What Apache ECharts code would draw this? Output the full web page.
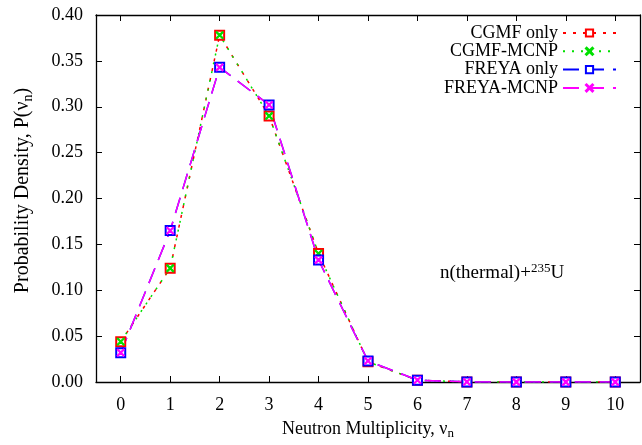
<!DOCTYPE html>
<html>
<head>
<meta charset="utf-8">
<script src="https://cdn.jsdelivr.net/npm/echarts@6/dist/echarts.min.js"></script>
<style>
  html, body { margin: 0; padding: 0; background: #fff; }
  #main { width: 642px; height: 445px; }
</style>
</head>
<body>
<div id="main"></div>
<script>
// neutron multiplicity
var nu = ['0', '1', '2', '3', '4', '5', '6', '7', '8', '9', '10'];
var cgmfOnly  = [0.044, 0.124, 0.378, 0.290, 0.140, 0.022, 0.002, 0.0001, 0, 0, 0];
var cgmfMcnp  = [0.044, 0.124, 0.378, 0.290, 0.140, 0.022, 0.002, 0.0001, 0, 0, 0];
var freyaOnly = [0.032, 0.165, 0.343, 0.302, 0.133, 0.023, 0.002, 0.0001, 0, 0, 0];
var freyaMcnp = [0.032, 0.165, 0.343, 0.302, 0.133, 0.023, 0.002, 0.0001, 0, 0, 0];
var yTicks = ['0.00', '0.05', '0.10', '0.15', '0.20', '0.25', '0.30', '0.35', '0.40'];

var FONT = '"Liberation Serif", "DejaVu Serif", serif';
var crossPath = 'path://M0,1L1,0L5,4L9,0L10,1L6,5L10,9L9,10L5,6L1,10L0,9L4,5Z';

var myChart = echarts.init(document.getElementById('main'));

function mkSeries(name, ys, color, dash, symbol, size) {
    return {
        name: name,
        type: 'line',
        data: ys,
        symbol: symbol,
        symbolSize: size,
        showAllSymbol: true,
        itemStyle: { color: color, borderColor: color, borderWidth: 1.3 },
        lineStyle: { color: color, width: 1.5, type: dash },
        z: 3
    };
}

var lineBlack = { show: true, onZero: false, lineStyle: { color: '#000', width: 1.3 } };
var tickIn = { show: true, inside: true, length: 6, alignWithLabel: true, lineStyle: { color: '#000' } };

var yCommon = {
    type: 'value',
    min: 0, max: 0.4, interval: 0.05,
    axisLine: lineBlack,
    axisTick: tickIn,
    splitLine: { show: false }
};

var option = {
    animation: false,
    backgroundColor: '#fff',
    textStyle: { fontFamily: FONT },
    grid: { left: 96, right: 2, top: 15, bottom: 61, containLabel: false },
    legend: {
        orient: 'vertical',
        right: 20,
        top: 19,
        align: 'right',
        itemWidth: 53,
        itemHeight: 9,
        itemGap: 0.3,
        textStyle: { fontFamily: FONT, fontSize: 18, lineHeight: 18, color: '#000' },
        data: ['CGMF only', 'CGMF-MCNP', 'FREYA only', 'FREYA-MCNP']
    },
    xAxis: [{
        type: 'category',
        data: nu,
        boundaryGap: true,
        name: 'Neutron Multiplicity, {g|ν}{s|n}',
        nameLocation: 'middle',
        nameGap: 36,
        nameTextStyle: {
            fontFamily: FONT, fontSize: 18, color: '#000',
            rich: {
                g: { fontFamily: FONT, fontSize: 18, color: '#000' },
                s: { fontFamily: FONT, fontSize: 13, color: '#000', verticalAlign: 'bottom', padding: [9, 0, 0, 0] }
            }
        },
        axisLine: lineBlack,
        axisTick: tickIn,
        axisLabel: { fontFamily: FONT, fontSize: 18, color: '#000', margin: 14 },
        splitLine: { show: false }
    }, {
        type: 'category',
        data: nu,
        position: 'top',
        boundaryGap: true,
        axisLine: lineBlack,
        axisTick: tickIn,
        axisLabel: { show: false },
        splitLine: { show: false }
    }],
    yAxis: [Object.assign({}, yCommon, {
        name: 'Probability Density, P({g|ν}{s|n})',
        nameLocation: 'middle',
        nameGap: 61,
        nameTextStyle: {
            fontFamily: FONT, fontSize: 20, color: '#000',
            padding: [0, 0, 0, 16],
            rich: {
                g: { fontFamily: FONT, fontSize: 20, color: '#000' },
                s: { fontFamily: FONT, fontSize: 14, color: '#000', verticalAlign: 'bottom', padding: [10, 0, 0, 0] }
            }
        },
        axisLabel: {
            fontFamily: FONT, fontSize: 18, color: '#000', margin: 13,
            formatter: function (v) { return yTicks[Math.round(v / 0.05)]; }
        }
    }), Object.assign({}, yCommon, {
        position: 'right',
        axisLabel: { show: false }
    })],
    graphic: [{
        type: 'text',
        left: 440,
        top: 262,
        style: {
            text: 'n(thermal)+{sup|235}U',
            font: '19px ' + FONT,
            fill: '#000',
            rich: {
                sup: { fontFamily: FONT, fontSize: 13, fill: '#000', verticalAlign: 'top', padding: [0, 0, 10, 0] }
            }
        }
    }],
    series: [
        mkSeries('CGMF only', cgmfOnly, '#ff0000', [3, 7], 'emptyRect', 9),
        mkSeries('CGMF-MCNP', cgmfMcnp, '#00e000', [2, 7], crossPath, 7),
        mkSeries('FREYA only', freyaOnly, '#0000ff', [16, 9], 'emptyRect', 9),
        mkSeries('FREYA-MCNP', freyaMcnp, '#ff00ff', [16, 9], crossPath, 7)
    ]
};

myChart.setOption(option);
</script>
</body>
</html>
